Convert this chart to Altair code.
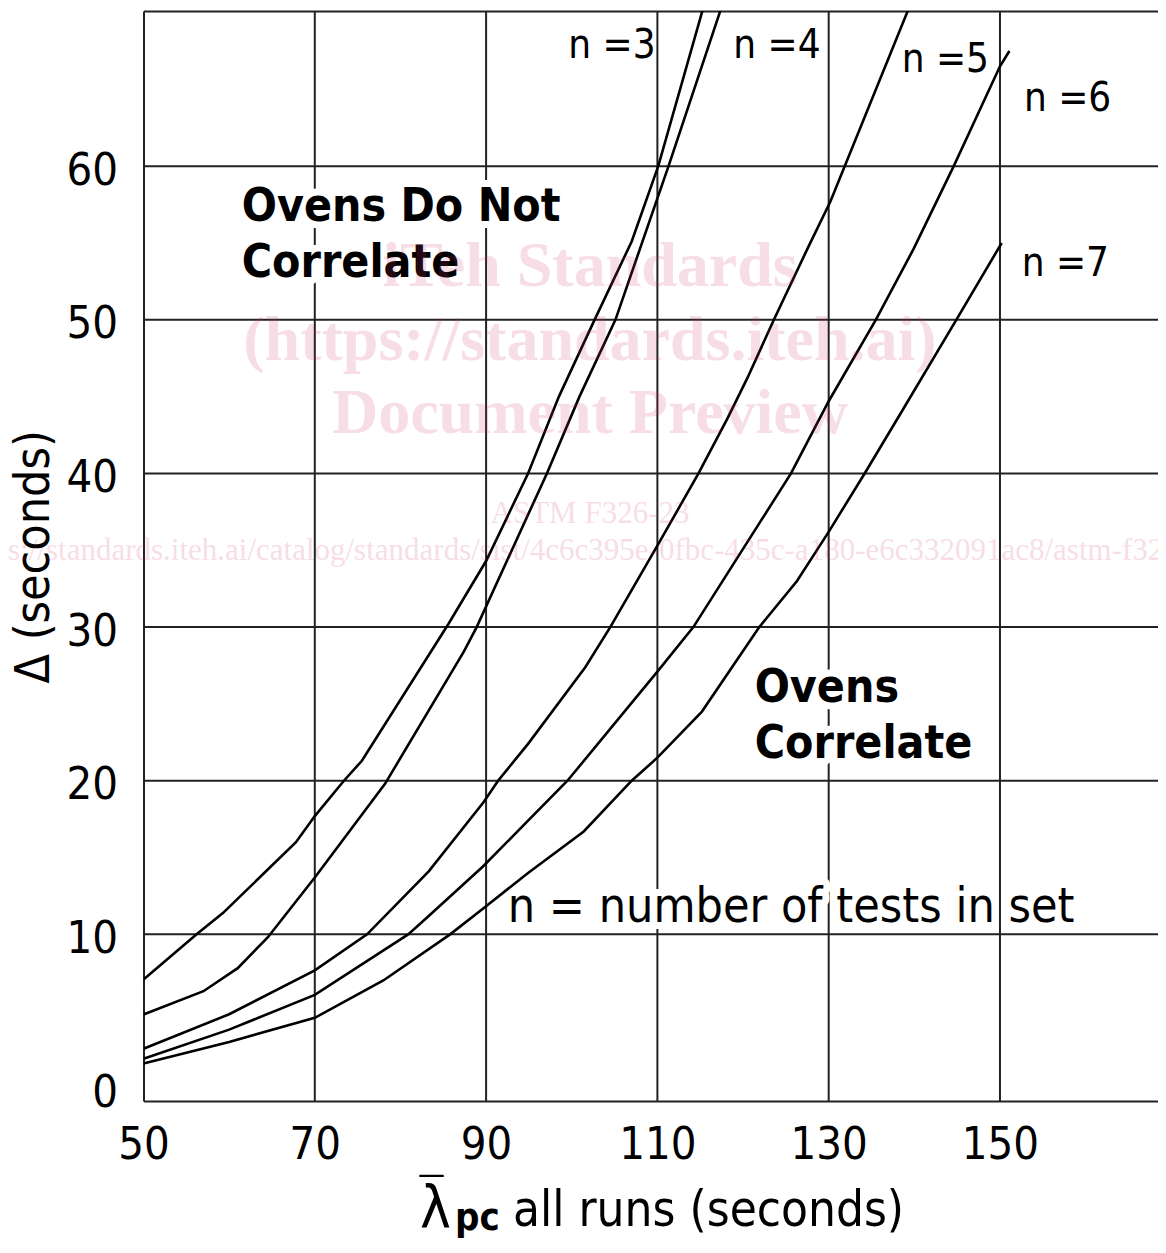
import altair as alt
import pandas as pd

FONT = "DejaVu Sans Condensed"
SERIF = "Liberation Serif"

# ---------------- data ----------------
x_ticks = [50, 70, 90, 110, 130, 150]
y_ticks = [0, 10, 20, 30, 40, 50, 60]
x_grid = [70, 90, 110, 130, 150]
y_grid = [10, 20, 30, 40, 50, 60]

n3_x = [50, 56.2, 59.3, 67.8, 70.0, 73.4, 75.5, 85.6, 90.0, 94.9, 98.5, 102.5, 107.0, 110.1, 115.3]
n3_y = [7.06, 10.0, 11.4, 16.0, 17.7, 20.0, 21.3, 30.2, 34.3, 40.0, 45.0, 49.8, 55.1, 60.0, 70.2]

n4_x = [50, 57, 61, 64.5, 70.0, 78.2, 87.4, 88.9, 97.1, 100.9, 105.1, 111.3, 117.4]
n4_y = [4.78, 6.3, 7.8, 9.8, 13.7, 19.8, 28.4, 30.0, 40.0, 45.0, 50.0, 60.0, 70.2]

n5_x = [50, 60, 70, 76.1, 83.3, 89.7, 91.4, 94.9, 101.6, 104.5, 110.0, 114.8, 118.2, 120.5, 123.6, 127.5, 130.2, 139.3]
n5_y = [2.55, 4.8, 7.66, 10.0, 14.1, 18.6, 20.0, 22.4, 27.4, 30.0, 35.3, 40.0, 43.6, 46.2, 50.0, 54.6, 57.7, 70.2]

n6_x = [50, 60, 70, 80.9, 83.3, 89.6, 94.9, 99.5, 110.0, 114.2, 125.6, 130.0, 135.5, 139.9, 144.6, 150.0, 151.1]
n6_y = [1.91, 3.8, 6.06, 10.0, 11.2, 14.4, 17.4, 20.0, 27.1, 30.0, 40.0, 44.7, 50.0, 54.6, 60.0, 66.5, 67.5]

n7_x = [50, 60, 70, 78.0, 85.8, 89.7, 94.9, 101.4, 107.0, 110.0, 115.2, 121.9, 126.3, 130.0, 134.2, 138.6, 144.9, 150.2]
n7_y = [1.59, 3.0, 4.57, 7.0, 10.0, 11.7, 14.0, 16.7, 20.0, 21.5, 24.5, 30.0, 33.0, 36.2, 40.0, 44.1, 50.0, 55.0]

series = {"n=3": (n3_x, n3_y), "n=4": (n4_x, n4_y), "n=5": (n5_x, n5_y),
          "n=6": (n6_x, n6_y), "n=7": (n7_x, n7_y)}

n_label_text = ["n =3", "n =4", "n =5", "n =6", "n =7"]
n_label_x = [99.6, 118.86, 138.52, 152.8, 152.53]
n_label_y = [67.04, 67.04, 66.1, 63.56, 52.82]

bold_text = ["Ovens Do Not\nCorrelate", "Ovens\nCorrelate"]
bold_x = [61.47, 121.36]
bold_y = [56.4, 25.15]

note_text = ["n = number of tests in set"]
note_x = [92.52]
note_y = [10.83]

wm_bold_text = ["iTeh Standards", "(https://standards.iteh.ai)", "Document Preview"]
wm_bold_y = [52.17, 47.40, 42.62]
wm_reg_text = ["ASTM F326-23",
               "https://standards.iteh.ai/catalog/standards/sist/4c6c395e-0fbc-435c-a180-e6c332091ac8/astm-f326-23"]
wm_reg_y = [36.80, 34.38]
wm_x = 102.13

ytitle_text = ["\u0394 (seconds)"]
ytitle_x = [37.3]
ytitle_y = [34.57]

# ---------------- scales / axes ----------------
xs = alt.Scale(domain=[50, 168.45], nice=False, zero=False)
ys = alt.Scale(domain=[-0.846, 70.1], nice=False, zero=False)

x_axis = alt.Axis(values=x_ticks, title=None, grid=False, domain=True, domainColor="#222",
                  domainWidth=2, ticks=False, tickSize=0,
                  labelFont=FONT, labelFontSize=45, labelColor="black", labelPadding=21,
                  labelFlush=False, labelOverlap=False)
x_axis_top = alt.Axis(orient="top", title=None, grid=False, labels=False, ticks=False, tickSize=0,
                      domain=True, domainColor="#222", domainWidth=2)
y_axis = alt.Axis(values=y_ticks, title=None, grid=False, domain=True, domainColor="#222",
                  domainWidth=2, ticks=False, tickSize=0,
                  labelFont=FONT, labelFontSize=45, labelColor="black", labelPadding=26,
                  labelOffset=4, labelFlush=False, labelOverlap=False)


def X(f="x", axis=None):
    return alt.X(f"{f}:Q", scale=xs, axis=axis)


def Y(f="y"):
    return alt.Y(f"{f}:Q", scale=ys, axis=y_axis)


def text_layer(texts, xv, yv, **mk):
    df = pd.DataFrame({"x": xv, "y": yv, "t": texts})
    return alt.Chart(df).mark_text(**mk).encode(x=X(), y=Y(), text="t:N")


grid_v = alt.Chart(pd.DataFrame({"x": x_grid})).mark_rule(color="#222", strokeWidth=2).encode(
    x=X(axis=x_axis))
grid_h = alt.Chart(pd.DataFrame({"y": y_grid})).mark_rule(color="#222", strokeWidth=2).encode(
    y=Y())
top_frame = alt.Chart(pd.DataFrame({"x": [x_ticks[0]]})).mark_rule(opacity=0).encode(
    x=X(axis=x_axis_top))

halo_kw = dict(align="left", baseline="alphabetic", font=FONT, fill="white", stroke="white",
               strokeWidth=14, strokeJoin="round")
halo_bold = text_layer(bold_text, bold_x, bold_y, fontWeight="bold", fontSize=46,
                       lineBreak="\n", lineHeight=56, **halo_kw)
halo_note = text_layer(note_text, note_x, note_y, fontSize=48, **halo_kw)

rows = []
for name, (xv, yv) in series.items():
    for i, (a, b) in enumerate(zip(xv, yv)):
        rows.append({"n": name, "x": a, "y": b, "o": i})
curves = alt.Chart(pd.DataFrame(rows)).mark_line(color="black", strokeWidth=2.6, clip=True).encode(
    x=X(), y=Y(), detail="n:N", order="o:Q")

n_labels = text_layer(n_label_text, n_label_x, n_label_y, align="left", baseline="alphabetic",
                      font=FONT, fontSize=40, color="black")
bold_labels = text_layer(bold_text, bold_x, bold_y, align="left", baseline="alphabetic", font=FONT,
                         fontSize=46, fontWeight="bold", lineBreak="\n", lineHeight=56, color="black")
note_label = text_layer(note_text, note_x, note_y, align="left", baseline="alphabetic", font=FONT,
                        fontSize=48, color="black")

# y axis title
ytitle = text_layer(ytitle_text, ytitle_x, ytitle_y, align="center", baseline="middle", angle=270,
                    font=FONT, fontSize=48, color="black")

# x axis title pieces: lambda with overbar, bold subscript, rest
xt_lam = text_layer(["\u03bb"], [82.28], [-9.11], align="left", baseline="alphabetic", font=FONT,
                    fontSize=58, color="black")
xt_bar = text_layer(["\u2014"], [82.04], [-6.22], align="left", baseline="alphabetic", font=FONT,
                    fontSize=30, color="black")
xt_sub = text_layer(["pc"], [86.37], [-9.24], align="left", baseline="alphabetic", font=FONT,
                    fontSize=38, fontWeight="bold", color="black")
xt_rest = text_layer(["all runs (seconds)"], [93.14], [-8.98], align="left", baseline="alphabetic",
                     font=FONT, fontSize=49, color="black")

wm_color = "#d33163"
wm1 = text_layer(wm_bold_text, [wm_x] * 3, wm_bold_y, align="center", baseline="alphabetic", font=SERIF,
                 fontWeight="bold", fontSize=64, color=wm_color, opacity=0.16)
wm2 = text_layer(wm_reg_text, [wm_x] * 2, wm_reg_y, align="center", baseline="alphabetic", font=SERIF,
                 fontSize=31, color=wm_color, opacity=0.16)

chart = alt.layer(
    grid_v, top_frame, grid_h, halo_bold, halo_note, curves, n_labels, bold_labels, note_label,
    ytitle, xt_lam, xt_bar, xt_sub, xt_rest, wm1, wm2
).resolve_axis(x="independent").properties(
    width=1014.5, height=1090,
    autosize=alt.AutoSizeParams(type="none"),
    padding={"left": 135.5, "top": 3, "right": 0, "bottom": 139},
).configure_view(stroke=None).configure(background="white")

chart.save("out.html", embed_options={"renderer": "svg", "actions": False})
